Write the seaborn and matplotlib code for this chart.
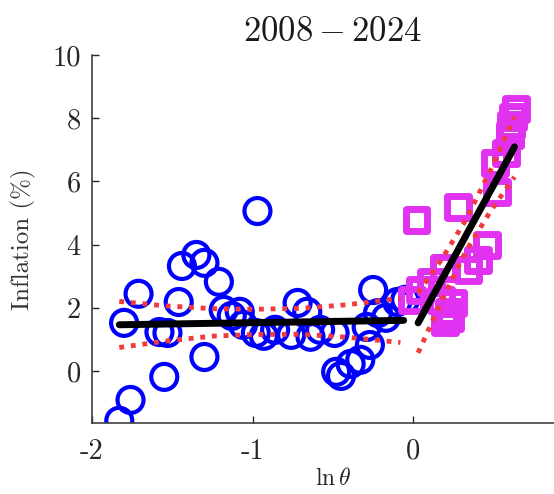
import numpy as np
import pandas as pd
import matplotlib
matplotlib.use("Agg")
import matplotlib.pyplot as plt
import seaborn as sns

# blue circles: ln(theta) < 0
low_x = [-1.83, -1.76, -1.80, -1.71, -1.55, -1.58, -1.53, -1.46, -1.44, -1.35,
         -1.30, -1.21, -1.30, -0.97, -1.18, -1.13, -1.08, -1.06, -0.98, -0.93,
         -0.86, -0.72, -0.66, -0.76, -0.64, -0.58, -0.49, -0.48, -0.45, -0.39,
         -0.33, -0.29, -0.25, -0.22, -0.27, -0.10, -0.17, -0.05]
low_y = [-1.58, -0.92, 1.52, 2.44, -0.19, 1.23, 1.20, 2.18, 3.32, 3.67,
         3.42, 2.82, 0.44, 5.06, 1.93, 1.74, 1.87, 1.46, 1.20, 1.11,
         1.30, 2.15, 1.87, 1.14, 1.08, 1.30, 1.20, -0.03, -0.16, 0.22,
         0.35, 1.39, 2.56, 1.83, 0.82, 2.18, 1.68, 2.25]

# magenta squares: ln(theta) > 0
high_x = [0.64, 0.62, 0.61, 0.60, 0.58, 0.51, 0.52, 0.28, 0.02, 0.46,
          0.40, 0.34, 0.19, 0.11, 0.04, -0.01, 0.17, 0.25, 0.22, 0.23, 0.20]
high_y = [8.30, 8.05, 7.78, 7.47, 6.90, 6.58, 5.66, 5.19, 4.78, 3.99,
          3.51, 3.19, 3.26, 2.82, 2.56, 2.25, 2.25, 2.15, 1.87, 1.68, 1.55]

# fitted lines and confidence bands
fit_low_x = [-1.83, -0.06]
fit_low_y = [1.46, 1.60]
fit_high_x = [0.03, 0.63]
fit_high_y = [1.52, 7.09]

band_low_x = [-1.83, -1.55, -1.25, -1.0, -0.7, -0.4, -0.08]
band_low_up = [2.20, 2.06, 1.97, 1.95, 1.98, 2.10, 2.30]
band_low_dn = [0.74, 0.94, 1.10, 1.15, 1.16, 1.06, 0.90]
band_high_x = [0.03, 0.18, 0.33, 0.48, 0.63]
band_high_up = [2.47, 3.56, 4.81, 6.35, 8.04]
band_high_dn = [0.57, 2.26, 3.81, 5.05, 6.14]

xticks = [-2, -1, 0]
xtick_labels = ["-2", "-1", "0"]
yticks = [0, 2, 4, 6, 8, 10]
ytick_labels = ["0", "2", "4", "6", "8", "10"]

sns.set_style("ticks")
plt.rcParams["font.family"] = ["cmr10", "DejaVu Serif"]
plt.rcParams["mathtext.fontset"] = "cm"
plt.rcParams["axes.unicode_minus"] = False

fig = plt.figure(figsize=(5.54, 4.94), dpi=100)
ax = fig.add_axes([0.166, 0.1437, 0.87, 0.745])

sns.scatterplot(x=low_x, y=low_y, ax=ax, marker="o", s=350,
                facecolor="none", edgecolor="#0000ff", linewidth=3, zorder=2)
sns.scatterplot(x=high_x, y=high_y, ax=ax, marker="s", s=250,
                facecolor="none", edgecolor="#e032f0", linewidth=5, zorder=3)

red = "#f03c3c"
for bx, by in [(band_low_x, band_low_up), (band_low_x, band_low_dn),
               (band_high_x, band_high_up), (band_high_x, band_high_dn)]:
    sns.lineplot(x=bx, y=by, ax=ax, color=red, lw=3.5, ls=(0, (1, 1.4)),
                 zorder=4, estimator=None, sort=False)
sns.lineplot(x=fit_low_x, y=fit_low_y, ax=ax, color="black", lw=5, zorder=5)
sns.lineplot(x=fit_high_x, y=fit_high_y, ax=ax, color="black", lw=5, zorder=5)

ax.set_xlim(-2, 1)
ax.set_ylim(-1.65, 10)
ax.set_xticks(xticks)
ax.set_xticklabels(xtick_labels)
ax.set_yticks(yticks)
ax.set_yticklabels(ytick_labels)
ax.tick_params(direction="in", length=5, width=1, labelsize=20.5,
               colors="#262626")
ax.tick_params(axis="x", pad=11)
ax.tick_params(axis="y", pad=8)
for s in ["top", "right"]:
    ax.spines[s].set_visible(False)
for s in ["left", "bottom"]:
    ax.spines[s].set_color("#404040")
    ax.spines[s].set_linewidth(1.2)

ax.set_title(r"$2008-2024$", fontsize=25, color="#1a1a1a", pad=10)
ax.set_xlabel(r"$\ln\theta$", fontsize=17, color="#262626", labelpad=2)
ax.set_ylabel("Inflation (%)", fontsize=18, color="#333333", labelpad=12)

fig.savefig("out.png", dpi=100)
